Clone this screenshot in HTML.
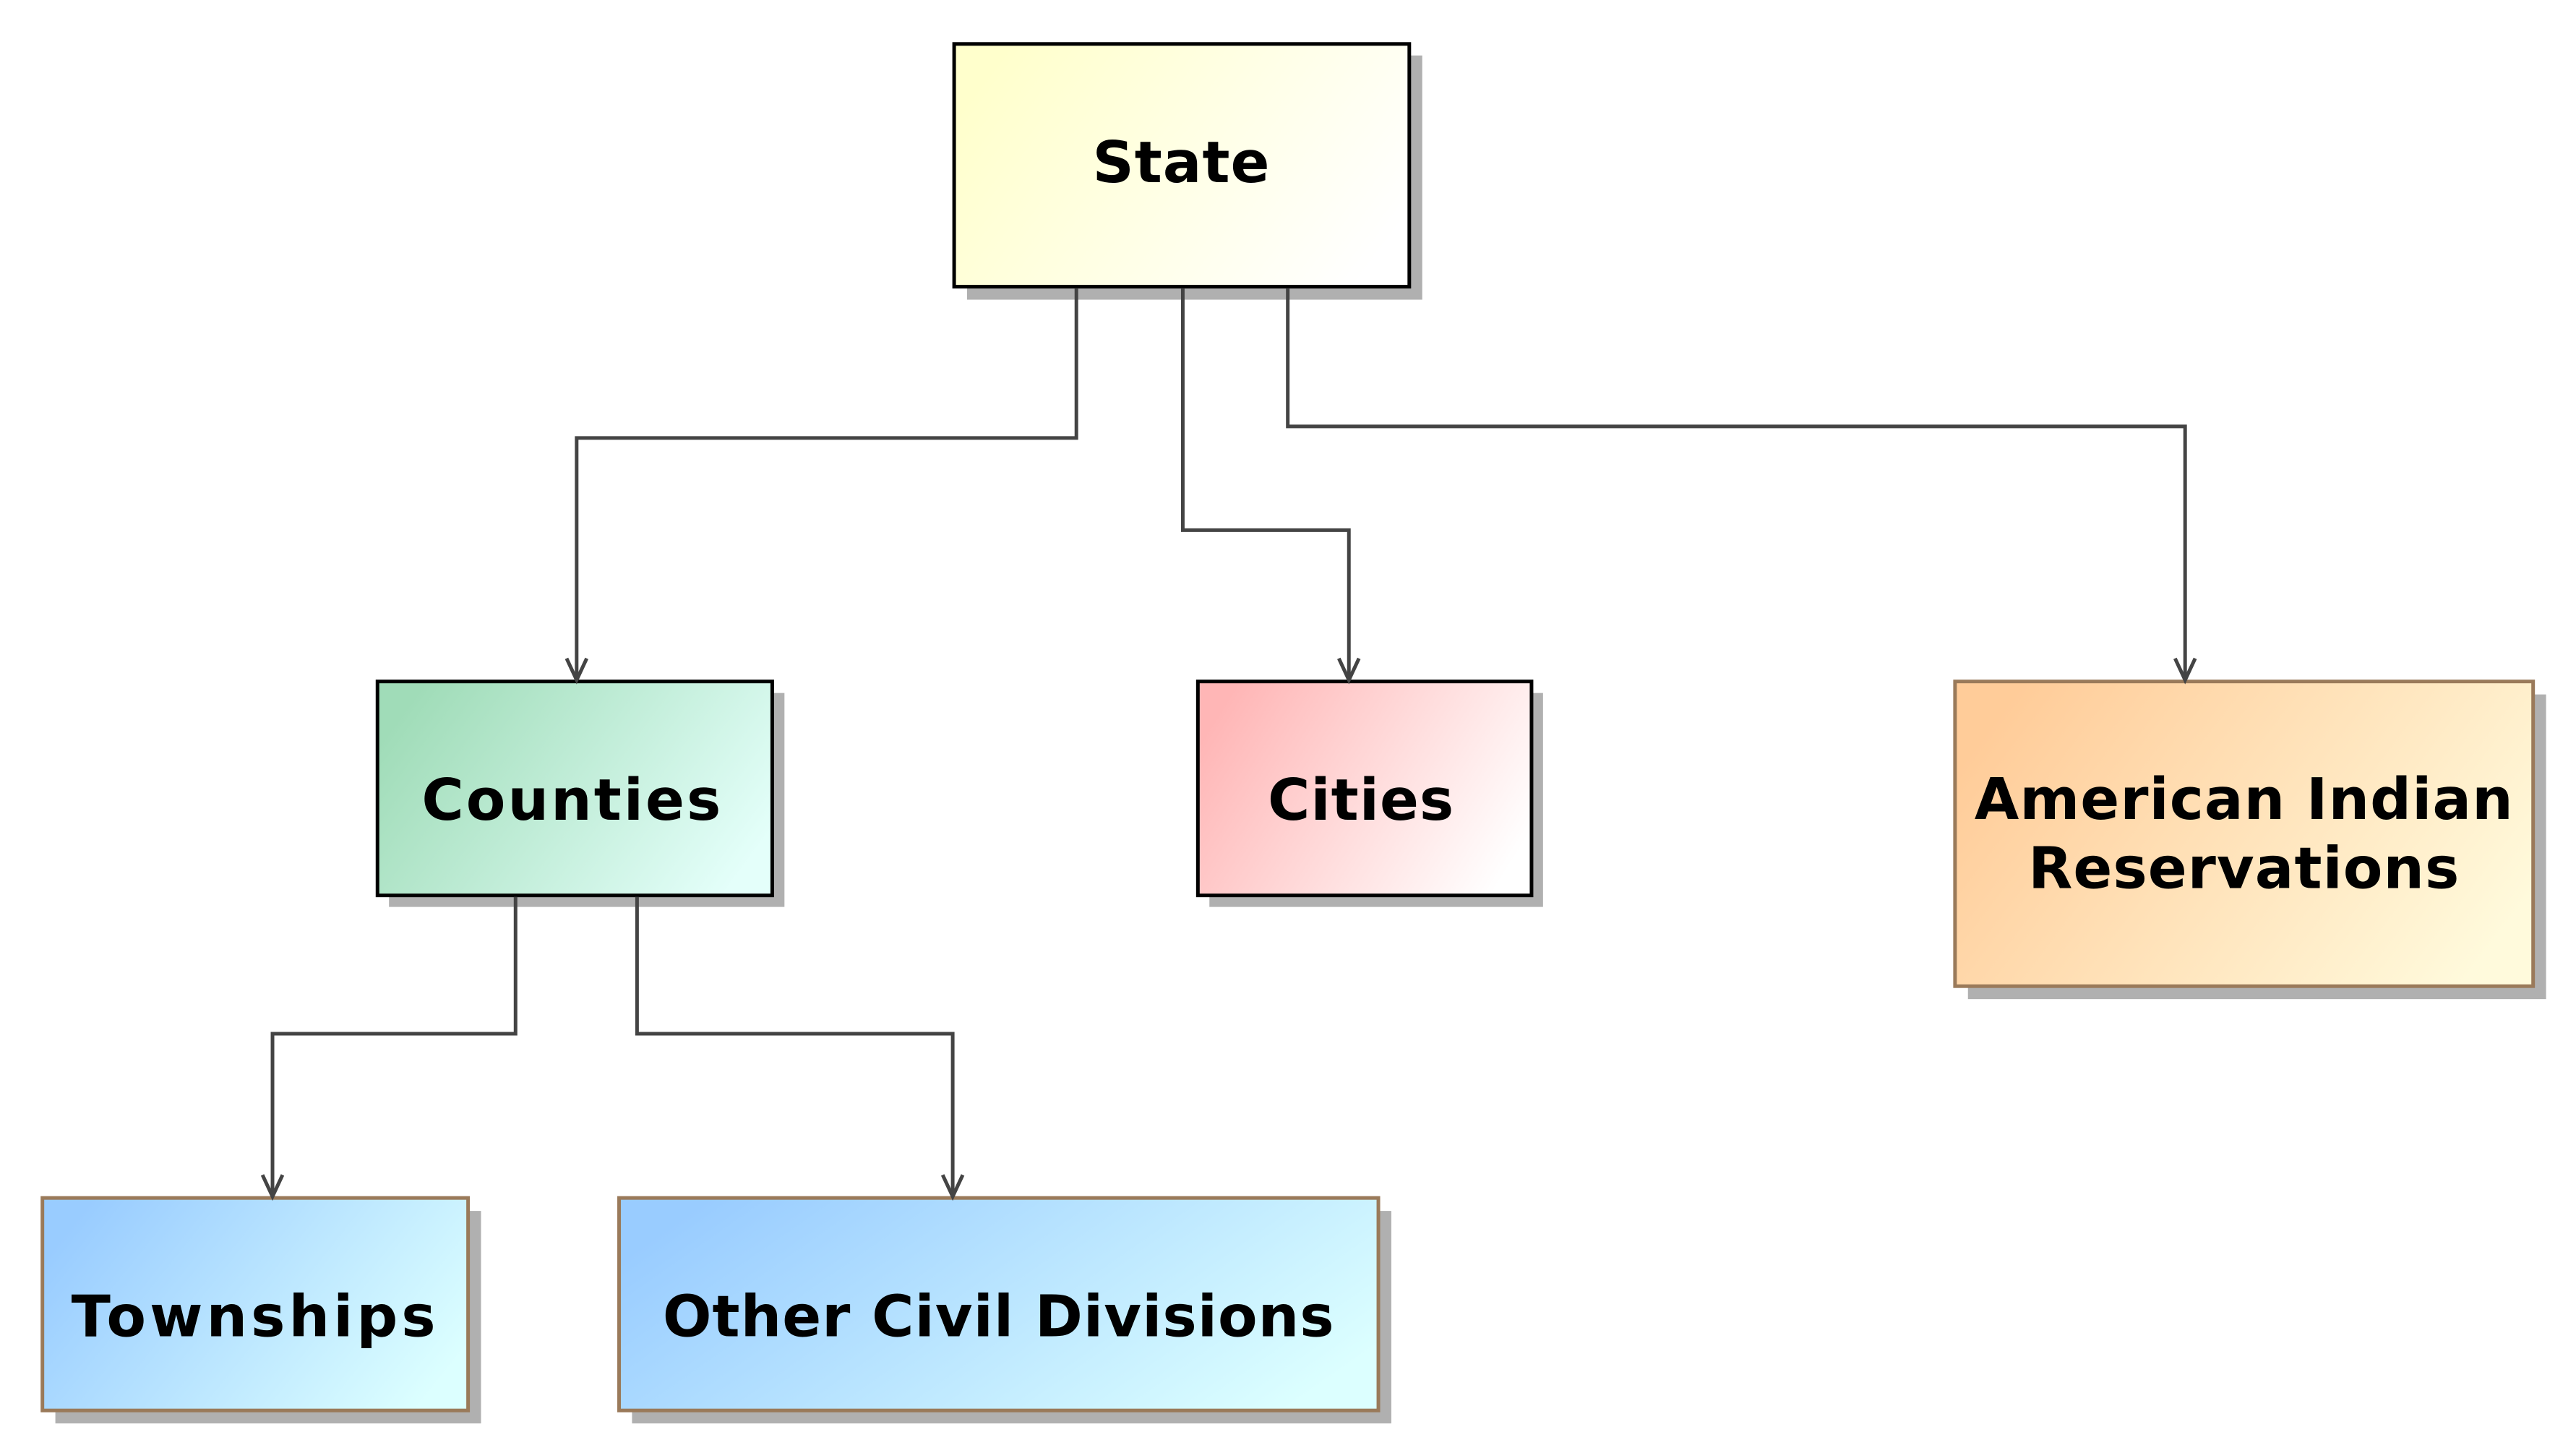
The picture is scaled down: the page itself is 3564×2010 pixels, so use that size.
<!DOCTYPE html>
<html><head><meta charset="utf-8"><style>
html,body{margin:0;padding:0;background:#fff;}
svg{display:block;}
text{font-family:"DejaVu Sans","Liberation Sans",sans-serif;font-weight:bold;font-size:80px;fill:#000;text-anchor:middle;letter-spacing:1px;}
</style></head><body>
<svg width="3564" height="2010" viewBox="0 0 3564 2010" xmlns="http://www.w3.org/2000/svg">
<defs>
<linearGradient id="gY" x1="0" y1="0.3" x2="1" y2="0.7"><stop offset="0" stop-color="#ffffcc"/><stop offset="1" stop-color="#ffffff"/></linearGradient>
<linearGradient id="gG" x1="0" y1="0.3" x2="1" y2="0.7"><stop offset="0" stop-color="#a0dcb8"/><stop offset="1" stop-color="#e4fffa"/></linearGradient>
<linearGradient id="gR" x1="0" y1="0.3" x2="1" y2="0.7"><stop offset="0" stop-color="#ffb6b6"/><stop offset="1" stop-color="#ffffff"/></linearGradient>
<linearGradient id="gO" x1="0" y1="0.3" x2="1" y2="0.7"><stop offset="0" stop-color="#ffcc99"/><stop offset="1" stop-color="#fffadc"/></linearGradient>
<linearGradient id="gB" x1="0" y1="0.3" x2="1" y2="0.7"><stop offset="0" stop-color="#99ccff"/><stop offset="1" stop-color="#dcffff"/></linearGradient>
</defs>
<g transform="scale(0.9948,0.9965)">
<g fill="#b0b0b0">
<rect x="1345" y="77" width="633" height="339"/>
<rect x="541" y="962" width="550" height="297"/>
<rect x="1682" y="962" width="464" height="297"/>
<rect x="2737" y="964" width="804" height="423"/>
<rect x="77" y="1681" width="592" height="295"/>
<rect x="879" y="1681" width="1056" height="295"/>
</g>
<rect x="1327" y="61" width="633" height="337" fill="url(#gY)" stroke="#000" stroke-width="5"/>
<rect x="525" y="946" width="549" height="297" fill="url(#gG)" stroke="#000" stroke-width="5"/>
<rect x="1666" y="946" width="464" height="297" fill="url(#gR)" stroke="#000" stroke-width="5"/>
<rect x="2719" y="946" width="804" height="423" fill="url(#gO)" stroke="#9a7a5a" stroke-width="5"/>
<rect x="59" y="1663" width="592" height="295" fill="url(#gB)" stroke="#9a7a5a" stroke-width="5"/>
<rect x="861" y="1663" width="1056" height="295" fill="url(#gB)" stroke="#9a7a5a" stroke-width="5"/>
<g fill="none" stroke="#444" stroke-width="5">
<polyline points="1497,400 1497,608 802,608 802,944"/>
<polyline points="1645,400 1645,736 1876,736 1876,944"/>
<polyline points="1791,400 1791,592 3039,592 3039,944"/>
<polyline points="717,1245 717,1435 379,1435 379,1661"/>
<polyline points="886,1245 886,1435 1325,1435 1325,1661"/>
<polyline points="788,914 802,944 816,914"/>
<polyline points="1862,914 1876,944 1890,914"/>
<polyline points="3025,914 3039,944 3053,914"/>
<polyline points="365,1631 379,1661 393,1631"/>
<polyline points="1311,1631 1325,1661 1339,1631"/>
</g>
<text x="1643" y="253">State</text>
<text x="796" y="1138" style="letter-spacing:3px">Counties</text>
<text x="1893" y="1138">Cities</text>
<text x="3121" y="1137">American Indian</text>
<text x="3121" y="1233">Reservations</text>
<text x="355" y="1855" style="letter-spacing:5px">Townships</text>
<text x="1389" y="1855">Other Civil Divisions</text>
</g>
</svg>
</body></html>
